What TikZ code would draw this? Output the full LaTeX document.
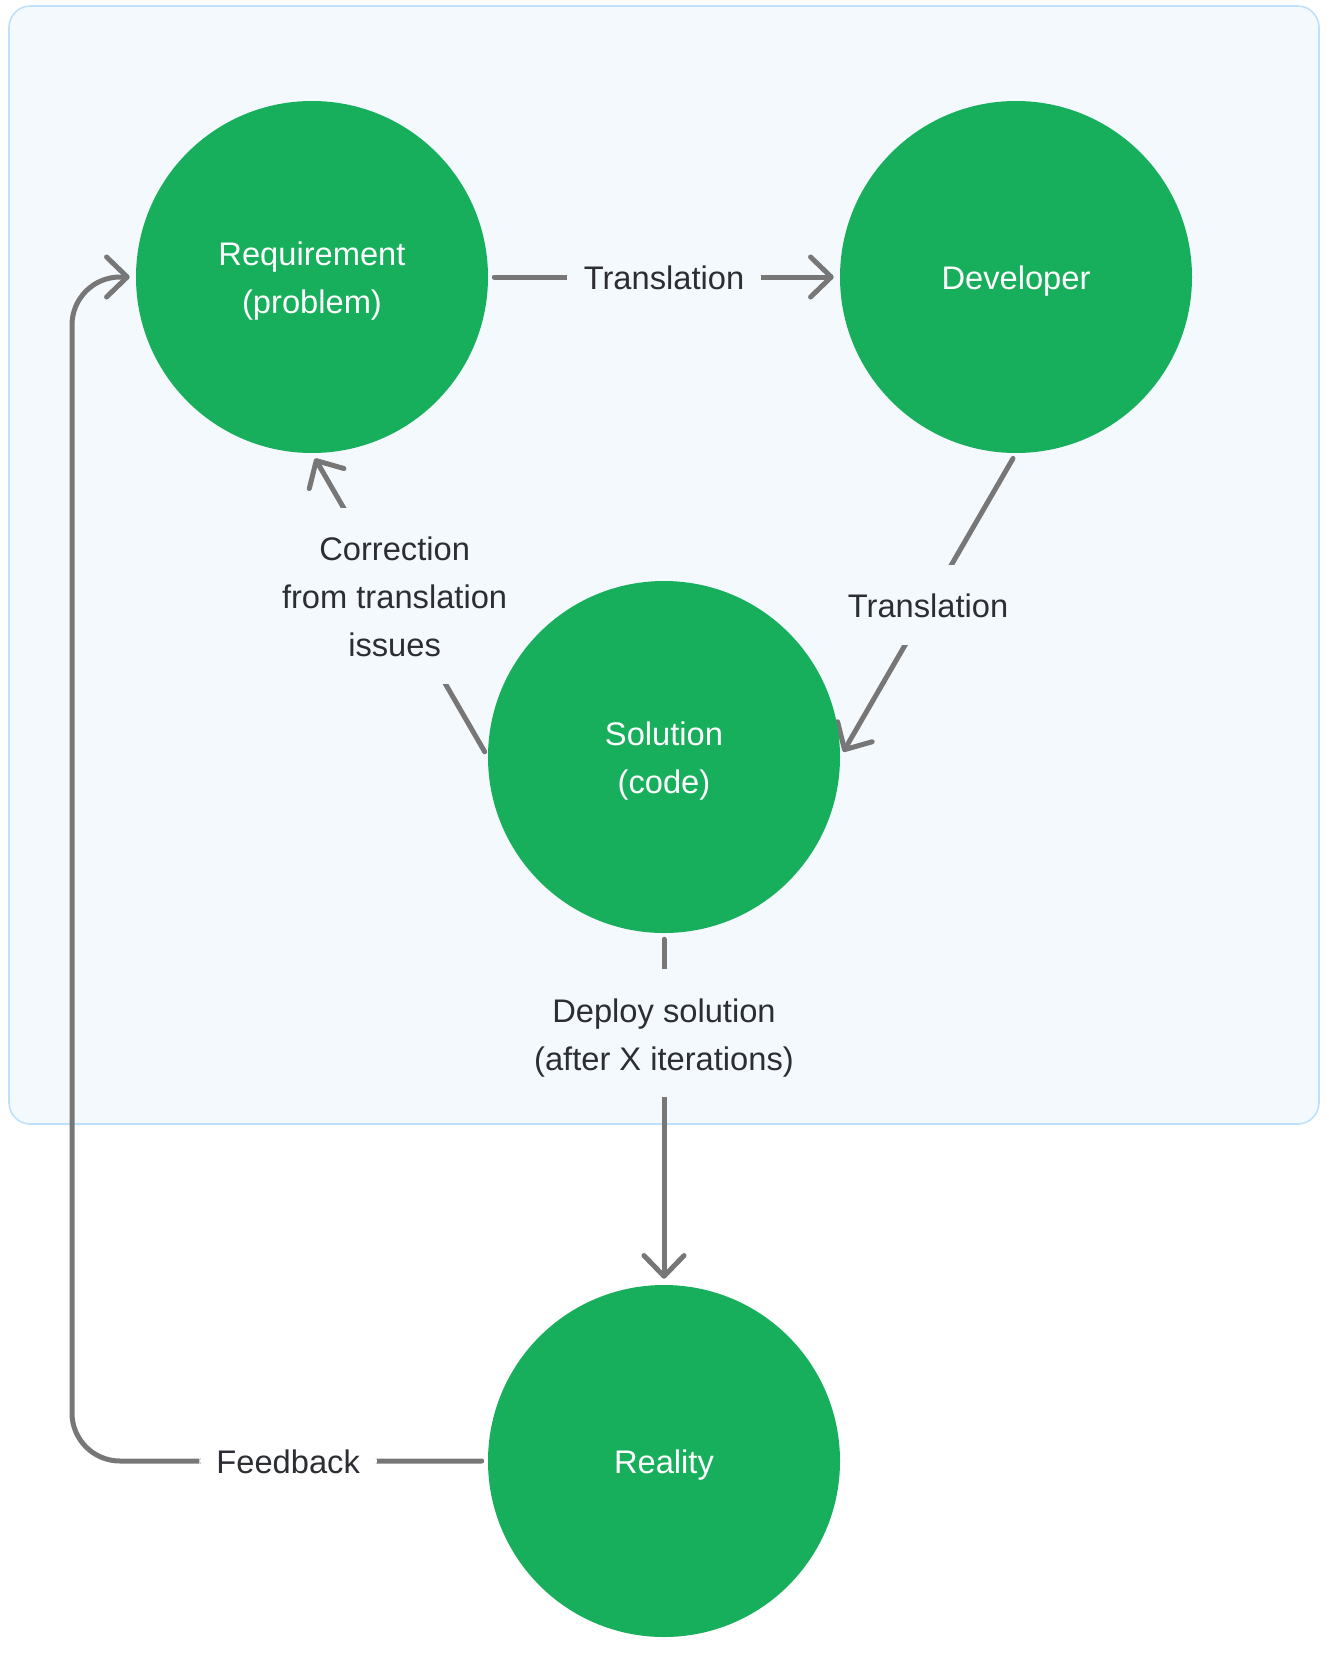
\documentclass[tikz,border=0pt]{standalone}
\usepackage{fontspec}
\setmainfont{Liberation Sans}
\usetikzlibrary{arrows.meta}
\definecolor{boxfill}{HTML}{F4F9FE}
\definecolor{boxline}{HTML}{BEE1FB}
\definecolor{nodegreen}{HTML}{17AE5C}
\definecolor{linegray}{HTML}{777777}
\definecolor{textdark}{HTML}{2C2E33}
\newcommand\lstrut{\rule[-8.4pt]{0pt}{36pt}}
\pgfdeclarelayer{bglayer}
\pgfsetlayers{bglayer,main}
\begin{document}
\begin{tikzpicture}[x=0.75pt,y=-0.75pt,
  every node/.style={font=\fontsize{24.5}{36}\selectfont},
  circ/.style={circle, fill=nodegreen, minimum size=264pt, inner sep=0pt, text=white, align=center},
  conn/.style={draw=linegray, line width=3.75pt, line cap=round, line join=round, shorten <=4.5pt, shorten >=4.5pt},
  arr/.style={conn, -{Straight Barb[length=15.5pt,width=30pt,line cap=round,line join=round]}},
  lbl/.style={fill=boxfill, text=textdark, align=center, inner xsep=12.75pt, inner ysep=12pt},
  lblw/.style={lbl, fill=white},
]
\useasboundingbox (0,0) rectangle (1328,1660);

\node[circ] (req) at (312,277) {\lstrut Requirement\\\lstrut(problem)};
\node[circ] (dev) at (1016,277) {\lstrut Developer};
\node[circ] (sol) at (664,757) {\lstrut Solution\\\lstrut(code)};
\node[circ] (real) at (664,1461) {\lstrut Reality};

\begin{pgfonlayer}{bglayer}
\draw[draw=boxline, fill=boxfill, line width=1.2pt, rounded corners=16pt] (9,6) rectangle (1319,1124);
\draw[arr] (req) -- node[lbl]{\lstrut Translation} (dev);
\draw[arr] (dev.south) -- node[lbl]{\lstrut Translation} (sol.east);
\draw[arr] (sol.west) -- node[lbl,pos=0.53]{\lstrut Correction\\\lstrut from translation\\\lstrut issues} (req.south);
\draw[arr] (sol) -- node[lbl,pos=0.285]{\lstrut Deploy solution\\\lstrut(after X iterations)} (real);
\coordinate (fbx) at (72,1461);
\draw[arr, rounded corners=36pt] (real.west) -- node[lblw,pos=0.48]{\lstrut Feedback} (fbx) |- (req.west);
\end{pgfonlayer}
\end{tikzpicture}
\end{document}
